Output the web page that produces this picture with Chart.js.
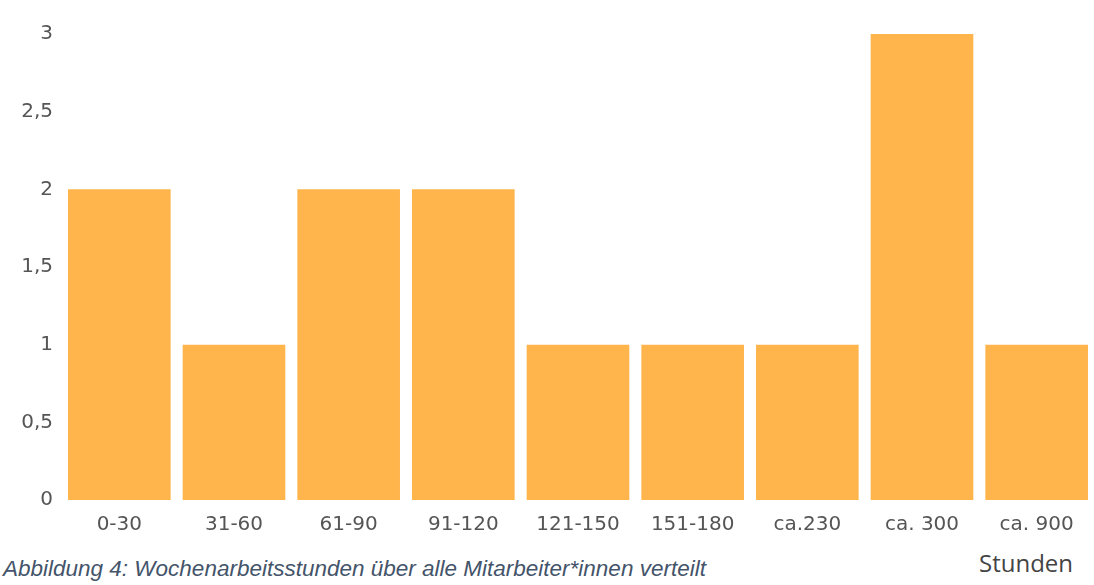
<!DOCTYPE html>
<html>
<head>
<meta charset="utf-8">
<script src="https://cdn.jsdelivr.net/npm/chart.js@4/dist/chart.umd.min.js"></script>
<style>
  body { margin: 0; background: #fff; width: 1094px; height: 585px; overflow: hidden; position: relative; }
  #wrap { position: absolute; left: 0; top: 0; width: 1094px; height: 542px; }
  .caption { position: absolute; left: 3px; top: 556px; font: italic 22.5px "Liberation Sans", Arial, sans-serif; color: #44546a; }
  .unit { position: absolute; left: 979px; top: 546px; font: 24px "Open Sans", sans-serif; color: #444; }
</style>
</head>
<body>
<div id="wrap"><canvas id="myChart" width="1094" height="542"></canvas></div>
<div class="caption">Abbildung 4: Wochenarbeitsstunden über alle Mitarbeiter*innen verteilt</div>
<div class="unit">Stunden</div>
<script>
// Wochenarbeitsstunden
let labels = ['0-30', '31-60', '61-90', '91-120', '121-150', '151-180', 'ca.230', 'ca. 300', 'ca. 900'];
let itemData = [2, 1, 2, 2, 1, 1, 1, 3, 1];
let yTicks = [0, 0.5, 1, 1.5, 2, 2.5, 3];

const data = {
    labels: labels,
    datasets: [{
        data: itemData,
        backgroundColor: 'rgb(255, 180, 76)',
        barPercentage: 0.895,
        categoryPercentage: 1
    }]
};

const tickFont = { family: 'DejaVu Sans', size: 20 };

const config = {
    type: 'bar',
    data: data,
    options: {
        responsive: false,
        animation: false,
        layout: { padding: { top: 34, right: 0, left: 0, bottom: 0 } },
        plugins: {
            legend: { display: false },
            title: { display: false },
            tooltip: { enabled: false }
        },
        scales: {
            x: {
                grid: { display: false },
                border: { display: false },
                ticks: { color: '#555', font: tickFont, padding: 5, maxRotation: 0, autoSkip: false },
                afterFit: (axis) => { axis.height = 42; }
            },
            y: {
                min: 0,
                max: 3,
                grid: { display: false },
                border: { display: false },
                afterBuildTicks: (axis) => { axis.ticks = yTicks.map(v => ({ value: v })); },
                ticks: {
                    color: '#555',
                    font: tickFont,
                    padding: 1,
                    callback: (v) => String(v).replace('.', ',')
                },
                afterFit: (axis) => { axis.width = 62; }
            }
        }
    }
};

const chart = new Chart(document.getElementById('myChart'), config);
</script>
</body>
</html>
